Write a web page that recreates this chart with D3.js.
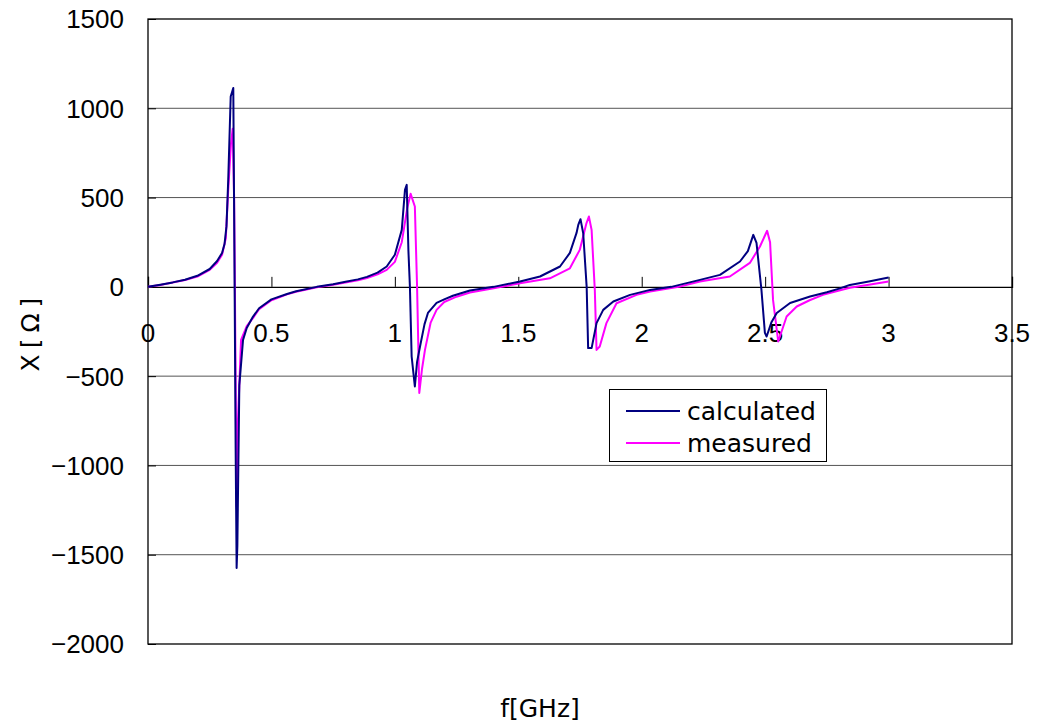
<!DOCTYPE html>
<html>
<head>
<meta charset="utf-8">
<script src="https://cdn.jsdelivr.net/npm/d3@7"></script>
<style>
  body { margin: 0; background: #fff; }
  svg text { font-family: "Liberation Sans", Arial, sans-serif; fill: #000; }
</style>
</head>
<body>
<svg id="chart" width="1037" height="724"></svg>
<script>
// 周波数 [GHz] とリアクタンス [Ω]
const calcFreq = [0, 0.05, 0.1, 0.15, 0.2, 0.25, 0.28, 0.30, 0.31, 0.318, 0.325, 0.335, 0.3455, 0.35, 0.355, 0.359, 0.362, 0.37, 0.385, 0.40, 0.425, 0.45, 0.5, 0.563, 0.6, 0.684, 0.75, 0.8, 0.85, 0.887, 0.93, 0.967, 1.0, 1.028, 1.041, 1.048, 1.055, 1.061, 1.068, 1.075, 1.081, 1.09, 1.102, 1.12, 1.134, 1.169, 1.2, 1.235, 1.304, 1.40, 1.507, 1.588, 1.669, 1.709, 1.736, 1.743, 1.752, 1.763, 1.777, 1.783, 1.797, 1.817, 1.844, 1.885, 1.953, 2.034, 2.12, 2.236, 2.317, 2.398, 2.43, 2.452, 2.465, 2.485, 2.499, 2.506, 2.525, 2.547, 2.601, 2.682, 2.75, 2.8, 2.843, 2.92, 3.0];
const calcX = [0, 12, 25, 40, 62, 100, 145, 190, 240, 340, 600, 1066, 1114, 200, -900, -1574, -1450, -550, -297, -230, -168, -120, -70, -40, -25, 0, 15, 28, 42, 56, 80, 114, 180, 319, 543, 571, 200, 0, -390, -480, -558, -420, -334, -210, -146, -90, -70, -50, -20, 0, 30, 58, 114, 190, 302, 347, 379, 300, 0, -343, -343, -203, -129, -82, -45, -17, 0, 39, 67, 142, 200, 291, 246, -17, -258, -278, -200, -146, -90, -54, -30, -10, 11, 30, 52];

const measFreq = [0, 0.05, 0.1, 0.15, 0.2, 0.25, 0.28, 0.30, 0.315, 0.325, 0.336, 0.343, 0.349, 0.352, 0.359, 0.3645, 0.377, 0.40, 0.425, 0.45, 0.5, 0.563, 0.6, 0.684, 0.75, 0.8, 0.85, 0.887, 0.93, 0.967, 1.0, 1.028, 1.05, 1.064, 1.081, 1.09, 1.099, 1.11, 1.122, 1.145, 1.169, 1.2, 1.25, 1.304, 1.40, 1.507, 1.628, 1.709, 1.749, 1.776, 1.786, 1.797, 1.81, 1.817, 1.83, 1.857, 1.898, 1.979, 2.034, 2.15, 2.236, 2.357, 2.438, 2.479, 2.508, 2.52, 2.532, 2.553, 2.587, 2.628, 2.68, 2.734, 2.8, 2.843, 2.92, 3.0];
const measX = [0, 11, 24, 38, 58, 95, 135, 180, 270, 543, 800, 885, 487, 0, -1230, -745, -297, -220, -175, -125, -75, -42, -27, -2, 12, 24, 37, 50, 70, 95, 140, 250, 440, 521, 450, 0, -594, -460, -353, -200, -129, -85, -55, -32, -8, 20, 48, 104, 207, 356, 394, 319, -17, -353, -334, -203, -92, -45, -26, 0, 30, 58, 134, 226, 314, 250, -73, -306, -166, -110, -75, -45, -20, -5, 12, 30];

const seriesNames = ['calculated', 'measured'];
const seriesColors = ['#000080', '#ff00ff'];
const xTicks = [0, 0.5, 1, 1.5, 2, 2.5, 3, 3.5];
const yTicks = [1500, 1000, 500, 0, -500, -1000, -1500, -2000];

const svg = d3.select('#chart');
const plot = { left: 148, right: 1012, top: 19, bottom: 644 };

const x = d3.scaleLinear().domain([0, 3.5]).range([plot.left, plot.right]);
const y = d3.scaleLinear().domain([-2000, 1500]).range([plot.bottom, plot.top]);

// グリッド線
svg.append('g')
  .selectAll('line')
  .data(yTicks.filter(v => v !== 0 && v !== 1500 && v !== -2000))
  .join('line')
  .attr('x1', plot.left).attr('x2', plot.right)
  .attr('y1', d => y(d)).attr('y2', d => y(d))
  .attr('stroke', '#555').attr('stroke-width', 1);

// 枠
svg.append('rect')
  .attr('x', plot.left).attr('y', plot.top)
  .attr('width', plot.right - plot.left).attr('height', plot.bottom - plot.top)
  .attr('fill', 'none').attr('stroke', '#000').attr('stroke-width', 1.3);

// Y 軸 (内向き目盛り)
const yAxis = svg.append('g')
  .attr('transform', `translate(${plot.left},0)`)
  .call(d3.axisRight(y).tickValues(yTicks).tickSize(8).tickFormat(''));
yAxis.select('.domain').remove();
yAxis.selectAll('line').attr('stroke', '#000');

svg.append('g')
  .selectAll('text')
  .data(yTicks)
  .join('text')
  .attr('x', 124)
  .attr('y', d => y(d))
  .attr('dy', '0.36em')
  .attr('text-anchor', 'end')
  .attr('font-size', 26)
  .text(d => d < 0 ? '\u2212' + Math.abs(d) : d);

// X 軸 (ゼロ線上、上向き目盛り)
const xAxis = svg.append('g')
  .attr('transform', `translate(0,${y(0)})`)
  .call(d3.axisTop(x).tickValues(xTicks).tickSize(10).tickFormat(''));
xAxis.select('.domain').attr('stroke', '#000').attr('stroke-width', 1.3);
xAxis.selectAll('line').attr('stroke', '#000');

svg.append('g')
  .selectAll('text')
  .data(xTicks)
  .join('text')
  .attr('x', d => x(d))
  .attr('y', y(0) + 55)
  .attr('text-anchor', 'middle')
  .attr('font-size', 26)
  .text(d => d);

// データ線
const line = d3.line().x(d => x(d[0])).y(d => y(d[1]));
const series = [
  d3.zip(calcFreq, calcX),
  d3.zip(measFreq, measX)
];
// measured first so calculated is drawn on top where they overlap
[1, 0].forEach(i => {
  svg.append('path')
    .datum(series[i])
    .attr('d', line)
    .attr('fill', 'none')
    .attr('stroke', seriesColors[i])
    .attr('stroke-width', 2)
    .attr('stroke-linejoin', 'round');
});

// 軸ラベル
svg.append('text')
  .attr('transform', `translate(30,${(plot.top + plot.bottom) / 2}) rotate(-90)`)
  .attr('text-anchor', 'middle')
  .attr('dy', '0.35em')
  .attr('font-size', 25)
  .attr('letter-spacing', 6)
  .style('font-family', '"DejaVu Sans", sans-serif')
  .text('X[Ω]');

svg.append('text')
  .attr('x', 540)
  .attr('y', 717)
  .attr('text-anchor', 'middle')
  .attr('font-size', 25)
  .style('font-family', '"DejaVu Sans", sans-serif')
  .text('f[GHz]');

// 凡例
const legend = svg.append('g');
legend.append('rect')
  .attr('x', 609.5).attr('y', 389.5)
  .attr('width', 217).attr('height', 72)
  .attr('fill', '#fff').attr('stroke', '#000').attr('stroke-width', 1);
seriesNames.forEach((name, i) => {
  const ly = 411 + i * 32;
  legend.append('line')
    .attr('x1', 626).attr('x2', 680)
    .attr('y1', ly).attr('y2', ly)
    .attr('stroke', seriesColors[i]).attr('stroke-width', 2);
  legend.append('text')
    .attr('x', 687).attr('y', ly)
    .attr('dy', '0.36em')
    .attr('font-size', 25)
    .style('font-family', '"DejaVu Sans", sans-serif')
    .text(name);
});
</script>
</body>
</html>
